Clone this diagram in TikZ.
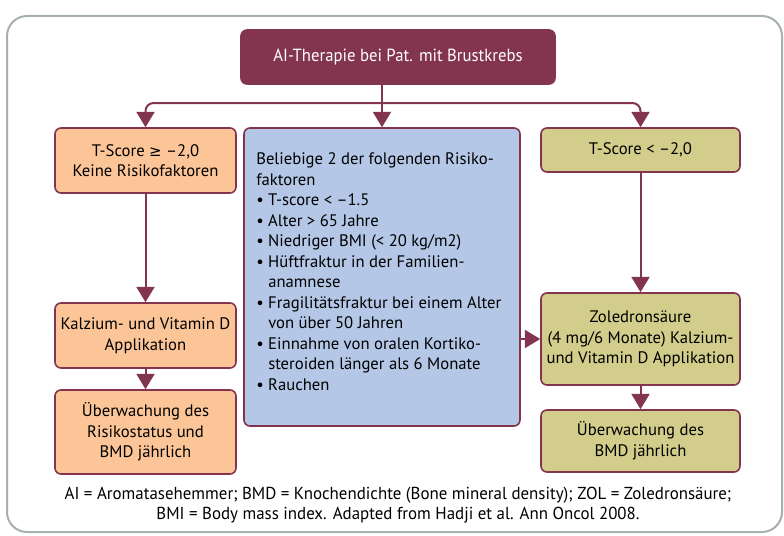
\documentclass[tikz,border=0pt]{standalone}
\usepackage{fontspec}
\setmainfont{PT Sans}
\newfontfamily\titlefont[FakeStretch=0.95]{PT Sans}
\newfontfamily\narrowfont[FakeStretch=0.975]{PT Sans}
\newfontfamily\symfont[Scale=0.9]{DejaVu Sans}
\usetikzlibrary{arrows.meta}
\definecolor{wine}{HTML}{833550}
\definecolor{peach}{HTML}{FBC598}
\definecolor{powder}{HTML}{B4C7E6}
\definecolor{khaki}{HTML}{D3CD8B}
\definecolor{rim}{HTML}{A6B0AE}
\newcommand{\itm}{\textbullet\ }
\newcommand{\cont}{\hphantom{\textbullet\ }}

\begin{document}
\begin{tikzpicture}[x=0.75pt,y=-0.75pt,font=\fontsize{12.5}{15.4}\selectfont,
  box/.style={draw=wine,line width=1.2pt,rounded corners=4.5pt,align=center,inner sep=0pt},
  leftbox/.style={box,fill=peach,minimum width=135.75pt},
  rightbox/.style={box,fill=khaki,minimum width=149.25pt},
  link/.style={wine,line width=1.5pt},
  arr/.style={link,-{Triangle[width=13.5pt,length=11.5pt]}}]
  \useasboundingbox (0,0) rectangle (784,535);
  \draw[rim,line width=1.5pt,rounded corners=15pt] (7,16) rectangle (782,532);

  % top
  \node[box,fill=wine,text=white,minimum width=235.5pt,minimum height=40.5pt,font=\titlefont\fontsize{13.2}{16}\selectfont]
       (ther) at (398,57) {AI-Therapie bei Pat. mit Brustkrebs};

  % left column
  \node[leftbox,minimum height=48.75pt] (low1) at (145.5,160.5) {T-Score {\symfont ≥} –2,0\\Keine Risikofaktoren};
  \node[leftbox,minimum height=48.75pt] (low2) at (145.5,335.5) {Kalzium- und Vitamin D\\Applikation};
  \node[leftbox,minimum height=63pt] (low3) at (145.5,432) {Überwachung des\\Risikostatus und\\BMD jährlich};

  % middle column
  \node[box,fill=powder,minimum width=207pt,minimum height=223.5pt] (risk) at (382,277) {};
  \node[anchor=north west,align=left,inner sep=0pt] (risktext) at (256,152.5)
       {Beliebige 2 der folgenden Risiko-\\
        faktoren\\
        \itm T-score < –1.5\\
        \itm Alter > 65 Jahre\\
        \itm Niedriger BMI (< 20 kg/m2)\\
        \itm Hüftfraktur in der Familien-\\
        \cont anamnese\\
        \itm Fragilitätsfraktur bei einem Alter\\
        \cont von über 50 Jahren\\
        \itm Einnahme von oralen Kortiko-\\
        \cont steroiden länger als 6 Monate\\
        \itm Rauchen};

  % right column
  \node[rightbox,minimum height=33pt] (high1) at (640.5,150) {T-Score < –2,0};
  \node[rightbox,minimum height=69pt] (high2) at (640.5,339) {Zoledronsäure\\(4 mg/6 Monate) Kalzium-\\und Vitamin D Applikation};
  \node[rightbox,minimum height=46.5pt] (high3) at (640.5,441) {Überwachung des\\BMD jährlich};

  % connectors
  \coordinate (fork) at (382,103);
  \draw[link] (ther.south -| fork) -- (fork);
  \draw[arr] (fork) -- (risk.north);
  \draw[arr,rounded corners=6pt] (fork) -| (low1.north);
  \draw[arr,rounded corners=6pt] (fork) -| (high1.north);
  \draw[arr] (low1) -- (low2);
  \draw[arr] (low2) -- (low3);
  \draw[arr] (high1) -- (high2);
  \draw[arr] (high2) -- (high3);
  \draw[arr] (risk.east |- high2) -- (high2.west);

  \node[align=center,font=\narrowfont\fontsize{13}{15}\selectfont] (note) at (398,505)
       {AI = Aromatasehemmer; BMD = Knochendichte (Bone mineral density); ZOL = Zoledronsäure;\\
        BMI = Body mass index. Adapted from Hadji et al. Ann Oncol 2008.};
\end{tikzpicture}
\end{document}
